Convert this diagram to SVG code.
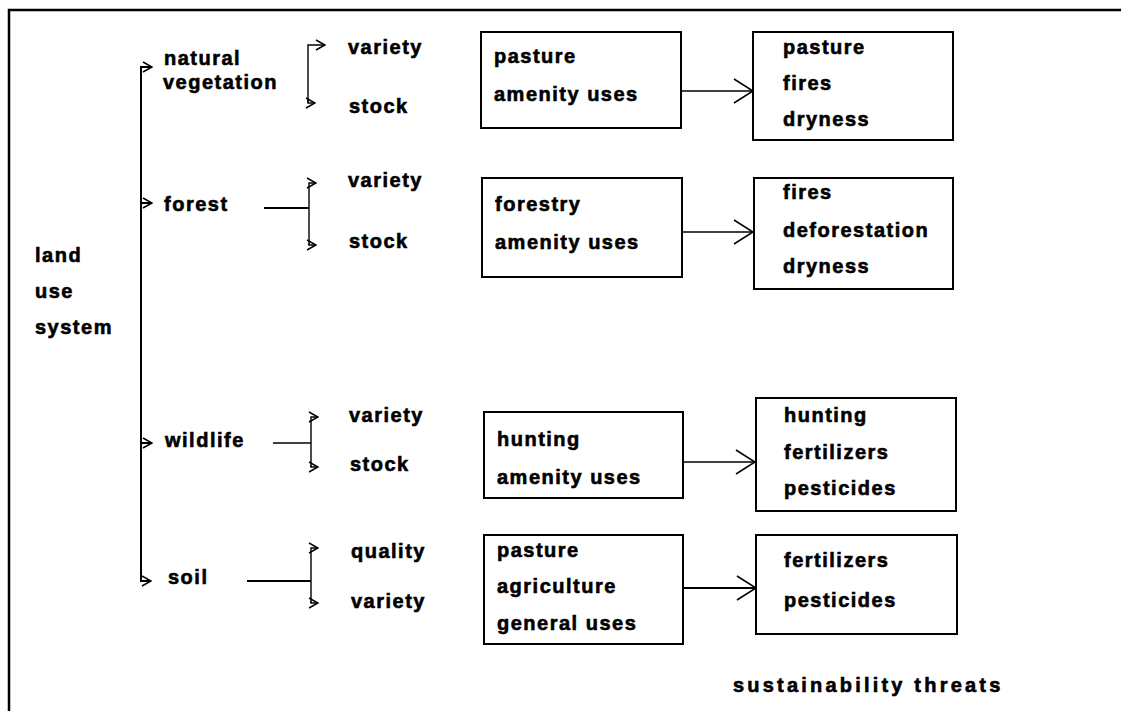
<svg xmlns="http://www.w3.org/2000/svg" width="1121" height="711" viewBox="0 0 1121 711">
<style>
text{font-family:"Liberation Sans",Arial,sans-serif;font-weight:bold;font-size:20px;letter-spacing:1.5px;fill:#000;stroke:#000;stroke-width:0.6px}
.big{letter-spacing:3.2px}
.box{fill:none;stroke:#000;stroke-width:2}
.ln{fill:none;stroke:#000;stroke-width:2}
.thin{fill:none;stroke:#000;stroke-width:1.4}
</style>
<defs>
<marker id="sm" markerUnits="userSpaceOnUse" viewBox="0 0 12 12" refX="11" refY="6" markerWidth="12" markerHeight="12" orient="auto">
<path d="M2,1 L11,6 L2,11" fill="none" stroke="#000" stroke-width="1.5"/>
</marker>
<marker id="bg" markerUnits="userSpaceOnUse" viewBox="0 0 22 28" refX="21" refY="14" markerWidth="22" markerHeight="28" orient="auto">
<path d="M2,2 L21,14 L2,26" fill="none" stroke="#000" stroke-width="1.5"/>
</marker>
</defs>
<rect width="1121" height="711" fill="#fff"/>
<g id="frame">
<path d="M9,711 V10 H1121" fill="none" stroke="#000" stroke-width="2.5"/>
</g>
<g id="connectors">
<path class="ln" d="M141,579 V67 H152" marker-end="url(#sm)"/>
<path class="ln" d="M141,203 H152" marker-end="url(#sm)"/>
<path class="ln" d="M141,443 H152" marker-end="url(#sm)"/>
<path class="ln" d="M141,578 V581 H151" marker-end="url(#sm)"/>
<path class="thin" d="M308,103 V45 H325" marker-end="url(#sm)"/>
<path class="thin" d="M308,100 V103 H315" marker-end="url(#sm)"/>
<path class="ln" d="M264,208 H309"/>
<path class="thin" d="M309,245 V183 H316" marker-end="url(#sm)"/>
<path class="thin" d="M309,243 V245 H316" marker-end="url(#sm)"/>
<path class="thin" d="M273,443 H311"/>
<path class="thin" d="M311,467 V417 H318" marker-end="url(#sm)"/>
<path class="thin" d="M311,465 V467 H318" marker-end="url(#sm)"/>
<path class="ln" d="M247,581 H311"/>
<path class="thin" d="M311,603 V548 H318" marker-end="url(#sm)"/>
<path class="thin" d="M311,601 V603 H318" marker-end="url(#sm)"/>
<path class="thin" d="M681,91 H753" marker-end="url(#bg)"/>
<path class="thin" d="M682,232 H753" marker-end="url(#bg)"/>
<path class="thin" d="M683,462 H755" marker-end="url(#bg)"/>
<path class="ln" d="M683,588 H756" marker-end="url(#bg)"/>
</g>
<g id="land-use-system">
<text x="35" y="262">land</text>
<text x="35" y="298">use</text>
<text x="35" y="334">system</text>
</g>
<g id="natural-vegetation">
<text x="164" y="65">natural</text>
<text x="163" y="89">vegetation</text>
</g>
<g id="forest"><text x="164" y="211">forest</text></g>
<g id="wildlife"><text x="165" y="447">wildlife</text></g>
<g id="soil"><text x="168" y="584">soil</text></g>
<g id="nv-attrs">
<text x="348" y="54">variety</text>
<text x="349" y="113">stock</text>
</g>
<g id="forest-attrs">
<text x="348" y="187">variety</text>
<text x="349" y="248">stock</text>
</g>
<g id="wildlife-attrs">
<text x="349" y="422">variety</text>
<text x="350" y="471">stock</text>
</g>
<g id="soil-attrs">
<text x="351" y="558">quality</text>
<text x="351" y="608">variety</text>
</g>
<g id="nv-uses">
<rect class="box" x="481" y="32" width="200" height="96"/>
<text x="494" y="63">pasture</text>
<text x="494" y="101">amenity uses</text>
</g>
<g id="nv-threats">
<rect class="box" x="753" y="32" width="200" height="108"/>
<text x="783" y="54">pasture</text>
<text x="783" y="90">fires</text>
<text x="783" y="126">dryness</text>
</g>
<g id="forest-uses">
<rect class="box" x="482" y="178" width="200" height="99"/>
<text x="495" y="211">forestry</text>
<text x="495" y="249">amenity uses</text>
</g>
<g id="forest-threats">
<rect class="box" x="754" y="178" width="199" height="111"/>
<text x="783" y="199">fires</text>
<text x="783" y="237">deforestation</text>
<text x="783" y="273">dryness</text>
</g>
<g id="wildlife-uses">
<rect class="box" x="484" y="412" width="199" height="86"/>
<text x="497" y="446">hunting</text>
<text x="497" y="484">amenity uses</text>
</g>
<g id="wildlife-threats">
<rect class="box" x="756" y="398" width="200" height="113"/>
<text x="784" y="422">hunting</text>
<text x="784" y="459">fertilizers</text>
<text x="784" y="495">pesticides</text>
</g>
<g id="soil-uses">
<rect class="box" x="484" y="535" width="199" height="109"/>
<text x="497" y="557">pasture</text>
<text x="497" y="593">agriculture</text>
<text x="497" y="630">general uses</text>
</g>
<g id="soil-threats">
<rect class="box" x="756" y="535" width="201" height="99"/>
<text x="784" y="567">fertilizers</text>
<text x="784" y="607">pesticides</text>
</g>
<g id="caption">
<text class="big" x="733" y="692">sustainability threats</text>
</g>
</svg>
